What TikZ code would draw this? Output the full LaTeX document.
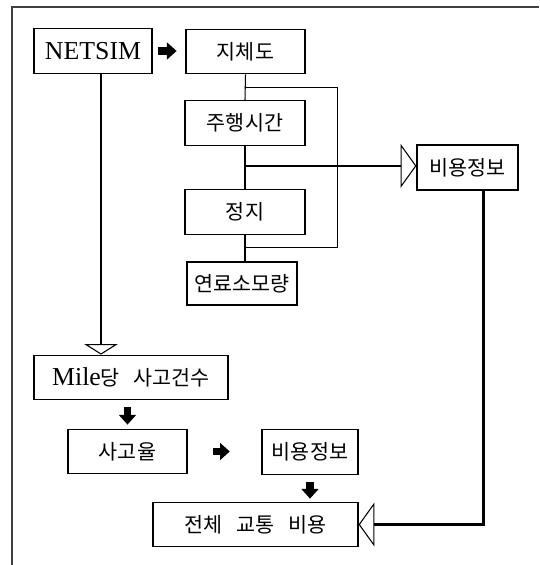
\documentclass[tikz,border=0pt]{standalone}
\usepackage{fontspec}
\setmainfont{Liberation Serif}
\newfontfamily\kr{Noto Sans CJK KR}[Scale=0.8,WordSpace=3]
\usetikzlibrary{calc,positioning,arrows.meta}

\begin{document}
\begin{tikzpicture}[x=0.02cm, y=-0.02cm,
  box/.style={draw, line width=0.7pt, inner sep=0pt, minimum height=0.89cm,
    font=\fontsize{14.7}{16}\selectfont},
  thin/.style={line width=0.6pt},
  heavy/.style={line width=1.4pt},
  blockarrow/.style={line width=4pt, -{Triangle[length=5.5pt, width=9.5pt]}},
  headin/.style={-{Triangle[open, length=9pt, width=25pt, line width=0.6pt]}},
  headdown/.style={-{Triangle[open, length=6pt, width=19pt, line width=0.6pt]}}]
  \useasboundingbox (0,0) rectangle (539,565);
  % page frame (cut on the right and bottom)
  \draw[line width=0.9pt, black!75] (12,565) -- (12,7) -- (539,7);
  % boxes
  \node[box, minimum width=2.36cm] (netsim) at (93,51) {NETSIM};
  \node[box, minimum width=2.38cm] (delay) at (245.5,51.5) {\kr 지체도};
  \node[box, minimum width=2.4cm] (drive) at (245,123) {\kr 주행시간};
  \node[box, minimum width=2.4cm] (stop) at (245,212) {\kr 정지};
  \node[box, minimum width=2.2cm, minimum height=0.86cm] (fuel) at (242,283.5) {\kr 연료소모량};
  \node[box, minimum width=2.02cm, minimum height=0.9cm] (costA) at (467.5,167.5) {\kr 비용정보};
  \node[box, minimum width=3.88cm] (mile) at (131,377.5) {Mile{\kr 당 사고건수}};
  \node[box, minimum width=2.38cm] (rate) at (127.5,451.5) {\kr 사고율};
  \node[box, minimum width=1.92cm] (costB) at (310,452) {\kr 비용정보};
  \node[box, minimum width=4.1cm] (total) at (255.5,524.5) {\kr 전체 교통 비용};
  % solid arrows
  \draw[blockarrow, shorten <=2.8pt, shorten >=5pt] (netsim.east) -- (netsim.east -| delay.west);
  \draw[blockarrow, shorten <=4pt, shorten >=2.3pt] (rate.north |- mile.south) -- (rate.north);
  \draw[blockarrow, shorten <=14.7pt, shorten >=18pt] (rate.east) -- (rate.east -| costB.west);
  \draw[blockarrow, shorten <=4pt, shorten >=1.7pt] (costB.south) -- (costB.south |- total.north);
  % chain of thin lines with the bracket
  \path (delay.south) ++(0,13) coordinate (brtop);
  \path (stop.south) ++(0,13) coordinate (brbot);
  \path (drive.south) ++(0,20) coordinate (split);
  \draw[thin] (delay.south) -- (drive.north);
  \draw[thin] (drive.south) -- (stop.north);
  \draw[thin] (stop.south) -- (stop.south |- fuel.north);
  \draw[thin] (brtop) -- ++(92,0) |- (brbot);
  % heavy lines with open heads
  \draw[heavy, headin] (split) -- (split -| costA.west);
  \coordinate (costout) at ($(costA.south)+(16,0)$);
  \draw[heavy, headin] (costout) |- (total.east);
  \coordinate (nsout) at ($(netsim.south)+(8,0)$);
  \draw[heavy, headdown] (nsout) -- (nsout |- mile.north);
\end{tikzpicture}
\end{document}
